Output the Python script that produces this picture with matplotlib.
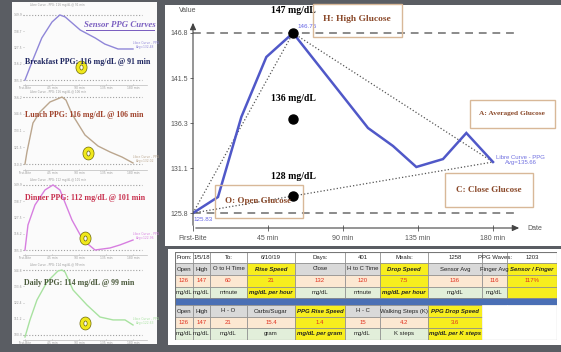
import matplotlib
matplotlib.use('Agg')
import matplotlib.pyplot as plt
from matplotlib.patches import Rectangle
from matplotlib.path import Path
from matplotlib.transforms import Affine2D

W, H = 561, 352

# ---- main PPG curve ----
time_min = [0, 15, 29, 44, 60, 105, 120, 134, 150, 164, 180]
glucose = [125.83, 127.69, 136.99, 143.96, 146.75, 135.71, 133.62, 131.18, 132.10, 135.13, 131.76]
y_tick_vals = [125.83, 131.06, 136.29, 141.52, 146.75]
y_tick_labels = ['125.8', '131.1', '136.3', '141.5', '146.8']
x_tick_vals = [0, 45, 90, 135, 180]
x_tick_labels = ['First-Bite', '45 min', '90 min', '135 min', '180 min']
open_g, high_g, close_g = 125.83, 146.75, 131.76
peak_t, end_t = 60, 180
dot_vals = [146.75, 136.8, 127.82]
dot_labels = ['147 mg/dL', '136 mg/dL', '128 mg/dL']

# ---- small sensor curves (left panel) ----
bf_t = [0, 13, 28, 45, 58, 67, 92, 117, 133, 155, 180]
bf_v = [105, 118.8, 134.0, 145.0, 149.9, 148.5, 139.5, 134.0, 129.8, 126.4, 126.4]
lu_t = [0, 3.3, 13.3, 25, 41.7, 61.7, 68.3, 78.3, 100, 121.7, 141.7, 161.7, 180]
lu_v = [110, 118.3, 138.3, 145.9, 152.8, 156.2, 154.1, 144.5, 130.0, 122.4, 118.3, 114.8, 110.7]
di_t = [0, 5, 16.7, 33.3, 46.7, 58.3, 78.3, 96.7, 116.7, 141.7, 158.3, 180]
di_v = [105, 122.3, 136.1, 146.4, 149.9, 146.4, 125.7, 111.9, 105, 106.4, 108.5, 111.9]
da_t = [0, 8.3, 20, 36.7, 55, 61.7, 66.7, 80, 103.3, 125, 146.7, 166.7, 180]
da_v = [98.6, 110.4, 124.2, 136.6, 144.2, 144.8, 143.5, 131.1, 120.7, 112.4, 110.4, 110.4, 106.9]
mini_t = [bf_t, lu_t, di_t, da_t]
mini_v = [bf_v, lu_v, di_v, da_v]
mini_base = [105, 110, 105, 100]
mini_peak = [149.9, 156.2, 149.9, 144.8]
ring_t = [93, 105, 100, 100]
ring_v = [114.0, 117.6, 113.3, 108.3]
mini_text = ['Breakfast PPG: 116 mg/dL @ 91 min', 'Lunch PPG: 116 mg/dL @ 106 min',
             'Dinner PPG: 112 mg/dL @ 101 min', 'Daily PPG: 114 mg/dL @ 99 min']
mini_colors = ['#8f86d8', '#bba68e', '#d77ee0', '#a8e2a0']
mini_text_colors = ['#1e2660', '#a0432c', '#c8304e', '#4b5a3c']

# ---- table ----
table_rows = [
    ['From:', '1/5/18', 'To:', '6/10/19', 'Days:', '401', 'Meals:', '1258', 'PPG Waves:', '1203'],
    ['Open', 'High', 'O to H Time', 'Rise Speed', 'Close', 'H to C Time', 'Drop Speed', 'Sensor Avg', 'Finger Avg', 'Sensor / Finger'],
    ['126', '147', '60', '21', '132', '120', '7.5', '136', '116', '117%'],
    ['mg/dL', 'mg/dL', 'minute', 'mg/dL per hour', 'mg/dL', 'minute', 'mg/dL per hour', 'mg/dL', 'mg/dL', ''],
    None,
    ['Open', 'High', 'H - O', 'Carbs/Sugar', 'PPG Rise Speed', 'H - C', 'Walking Steps (K)', 'PPG Drop Speed', '', ''],
    ['126', '147', '21', '15.4', '1.4', '15', '4.2', '3.6', '', ''],
    ['mg/dL', 'mg/dL', 'mg/dL', 'gram', 'mg/dL per gram', 'mg/dL', 'K steps', 'mg/dL per K steps', '', ''],
]

SERIF = ['Liberation Serif', 'DejaVu Serif']
NARROW = ['Liberation Sans Narrow', 'Liberation Sans', 'DejaVu Sans']


def px_axes(fig, x0, y0, x1, y1):
    return fig.add_axes([x0 / W, 1 - y1 / H, (x1 - x0) / W, (y1 - y0) / H])


def px_rect(fig, x0, y0, x1, y1, **kw):
    r = Rectangle((x0 / W, 1 - y1 / H), (x1 - x0) / W, (y1 - y0) / H,
                  transform=fig.transFigure, **kw)
    fig.add_artist(r)


def px_text(fig, x, y, s, ha='center', **kw):
    fig.text(x / W, 1 - y / H, s, ha=ha, va='center', **kw)


def main():
    fig = plt.figure(figsize=(W / 100, H / 100), dpi=100, facecolor='#5a5d63')

    # panels
    px_rect(fig, 12, 2, 157, 344, facecolor='#fbfbfb', edgecolor='none', zorder=-5)
    px_rect(fig, 165, 5, 561, 246, facecolor='white', edgecolor='none', zorder=-5)
    px_rect(fig, 168, 249, 561, 345, facecolor='white', edgecolor='none', zorder=-5)

    # ---------- main chart ----------
    ax = px_axes(fig, 193, 20, 522, 228)
    ax.set_facecolor('none')
    ax.set_xlim(0, 197.4)
    ax.set_ylim(124.09, 148.26)
    for s in ax.spines.values():
        s.set_visible(False)
    ax.annotate('', xy=(1, 0), xytext=(0, 0), xycoords='axes fraction',
                arrowprops=dict(arrowstyle='-|>,head_length=0.4,head_width=0.18', color='#444', lw=0.8))
    ax.annotate('', xy=(0, 1), xytext=(0, 0), xycoords='axes fraction',
                arrowprops=dict(arrowstyle='-|>,head_length=0.4,head_width=0.18', color='#444', lw=0.8))
    ax.set_yticks(y_tick_vals, y_tick_labels, family=NARROW)
    ax.set_xticks(x_tick_vals, x_tick_labels, family=NARROW)
    ax.tick_params(axis='y', length=2.5, width=0.6, colors='#555', labelsize=5, pad=1)
    ax.tick_params(axis='x', direction='inout', length=4, width=0.6, colors='#555', labelsize=5, pad=3)
    ax.text(1.015, 0, 'Date', transform=ax.transAxes, ha='left', va='center',
            fontsize=5, color='#555', family=NARROW)
    ax.text(-0.015, 1.03, 'Value', transform=ax.transAxes, ha='center', va='bottom',
            fontsize=5, color='#555', family=NARROW)

    ax.hlines([open_g, high_g], 0, 194, colors='#8a8a8a', linestyles=(0, (4, 3)), lw=1.4)
    ax.plot([0, peak_t], [open_g, high_g], ls=':', color='#555', lw=0.9)
    ax.plot([peak_t, end_t], [high_g, close_g], ls=':', color='#555', lw=0.9)
    ax.plot([0, end_t], [open_g, close_g], ls=':', color='#555', lw=0.9)
    ax.plot(time_min, glucose, color='#5058c8', lw=1.8, solid_joinstyle='miter')

    offs = [16, 14.5, 14]
    for v, lab, o in zip(dot_vals, dot_labels, offs):
        ax.plot(peak_t, v, 'o', color='black', ms=6.5, zorder=5)
        ax.annotate(lab, (peak_t, v), xytext=(0, o), textcoords='offset points',
                    ha='center', va='center', fontsize=7, fontweight='bold',
                    family=SERIF, color='black', annotation_clip=False)

    ax.annotate('146.75', (peak_t, high_g), xytext=(3, 5), textcoords='offset points',
                ha='left', va='center', fontsize=4.5, color='#6464e6', family=NARROW)
    ax.annotate('125.83', (0, open_g), xytext=(7, -4.5), textcoords='offset points',
                ha='center', va='center', fontsize=4.5, color='#6464e6', family=NARROW,
                annotation_clip=False)
    ax.annotate('Libre Curve - PPG\nAvg=135.66', (end_t, close_g), xytext=(20, 1.5),
                textcoords='offset points', ha='center', va='center', fontsize=4.3,
                color='#7070e0', family=NARROW, linespacing=1.1, annotation_clip=False)

    # label boxes
    box_color = '#d8b898'
    brown = '#8b4a2b'
    px_rect(fig, 313, 4, 402, 37, facecolor='none', edgecolor=box_color, lw=1.0)
    px_text(fig, 357, 19, 'H: High Glucose', fontsize=6.8, fontweight='bold', color=brown, family=SERIF)
    px_rect(fig, 470, 100, 555, 128, facecolor='none', edgecolor=box_color, lw=1.0)
    px_text(fig, 512, 114, 'A: Averaged Glucose', fontsize=5.3, fontweight='bold', color=brown, family=SERIF)
    px_rect(fig, 445, 173, 533, 207, facecolor='none', edgecolor=box_color, lw=1.0)
    px_text(fig, 489, 190, 'C: Close Glucose', fontsize=6.5, fontweight='bold', color=brown, family=SERIF)
    px_rect(fig, 215, 185, 303, 218, facecolor='none', edgecolor=box_color, lw=1.0)
    px_text(fig, 258, 201, 'O: Open Glucose', fontsize=6.5, fontweight='bold', color=brown, family=SERIF)

    # ---------- left panel mini charts ----------
    layout = [(8, 85, 80), (96, 170, 164), (184, 255, 250), (269, 340, 335)]
    title_y = [5, 92, 180, 265]
    label_pos = [(88, 62), (84, 115), (85, 198), (79, 283)]
    scale = 0.69
    ell = Path.unit_circle().transformed(Affine2D().scale(0.8, 1.0))
    for i in range(4):
        top, axis_y, base_px = layout[i]
        m = px_axes(fig, 23, top, 147, axis_y)
        m.set_facecolor('none')
        m.set_xlim(-3.3, 203.3)
        b = mini_base[i]
        m.set_ylim(b - (axis_y - base_px) * scale, b + (base_px - top) * scale)
        for k in ['top', 'right', 'left']:
            m.spines[k].set_visible(False)
        m.spines['bottom'].set_color('#bbb')
        m.spines['bottom'].set_linewidth(0.5)
        m.axhline(mini_peak[i], xmax=0.96, color='#a0a0a0', ls=(0, (1, 1.6)), lw=0.8)
        m.axhline(mini_base[i], xmax=0.96, color='#a0a0a0', ls=(0, (1, 1.6)), lw=0.8)
        m.plot(mini_t[i], mini_v[i], color=mini_colors[i], lw=1.0)
        m.set_xticks(x_tick_vals, x_tick_labels)
        yt = [mini_base[i] + (mini_peak[i] - mini_base[i]) * k / 4 for k in range(5)]
        m.set_yticks(yt, ['%.1f' % v for v in yt])
        m.tick_params(direction='in', length=1, width=0.4, colors='#999', labelsize=2.2, pad=0.4)
        m.plot(ring_t[i], ring_v[i], marker=ell, ms=6.5, mfc='none', mec='#6e6a10', mew=3.3)
        m.plot(ring_t[i], ring_v[i], marker=ell, ms=6.5, mfc='none', mec='#f0e81c', mew=2.3)
        m.annotate('Libre Curve - PPG\nAvg=%.2f' % (sum(mini_v[i]) / len(mini_v[i])),
                   (mini_t[i][-1], mini_v[i][-1]), xytext=(9, 3), textcoords='offset points',
                   ha='center', va='center', fontsize=2.2, color=mini_colors[i],
                   annotation_clip=False)
        px_text(fig, 30, title_y[i], 'Libre Curve - PPG: %s' % mini_text[i].split(': ')[1],
                ha='left', fontsize=2.0, color='#999')
        lx, ly = label_pos[i]
        px_text(fig, lx, ly, mini_text[i], fontsize=5.7, fontweight='bold',
                color=mini_text_colors[i], family=SERIF)

    px_text(fig, 120, 25, 'Sensor PPG Curves', fontsize=6.3, fontweight='bold', style='italic',
            color='#7b5fc0', family=SERIF)
    px_rect(fig, 86, 30, 155, 30.8, facecolor='#7b5fc0', edgecolor='none')

    # ---------- table ----------
    t = px_axes(fig, 175, 252, 557, 340)
    t.axis('off')
    t.set_xlim(0, 382)
    t.set_ylim(88, 0)
    col_edges = [0, 18, 35, 72, 120, 170, 205, 253, 307, 332, 382]
    row_edges = [0, 11, 23, 35, 46, 53, 65, 76, 88]
    row_bg = ['white', '#d9d9d9', '#fce8d2', '#e2efda', None, '#d9d9d9', '#fce8d2', '#e2efda']
    yellow_top = {3, 6, 9}
    yellow_bot = {4, 7}
    for r, row in enumerate(table_rows):
        y0, y1 = row_edges[r], row_edges[r + 1]
        if row is None:
            t.add_patch(Rectangle((0, y0), 382, y1 - y0, facecolor='#4a6fb5', edgecolor='#888', lw=0.5))
            continue
        for c, txt in enumerate(row):
            x0, x1 = col_edges[c], col_edges[c + 1]
            bg = row_bg[r]
            ylw = (r in (1, 2, 3) and c in yellow_top) or (r in (5, 6, 7) and c in yellow_bot)
            blank = r >= 5 and c >= 8
            if ylw:
                bg = '#f7ee1e'
            if blank:
                bg = 'white'
            t.add_patch(Rectangle((x0, y0), x1 - x0, y1 - y0, facecolor=bg,
                                  edgecolor='white' if blank else '#8a8a8a', lw=0.5))
            color = '#e0301e' if r in (2, 6) else '#222'
            weight = 'bold' if (ylw and r not in (2, 6)) else 'normal'
            st = 'italic' if (ylw and r not in (2, 6)) else 'normal'
            t.text((x0 + x1) / 2, (y0 + y1) / 2, txt, ha='center', va='center',
                   fontsize=4.3, color=color, fontweight=weight, style=st, family=NARROW)
    t.add_patch(Rectangle((0, 0), 382, 88, facecolor='none', edgecolor='#777', lw=0.8))

    plt.savefig('out.png', dpi=100, facecolor=fig.get_facecolor())


if __name__ == '__main__':
    main()
